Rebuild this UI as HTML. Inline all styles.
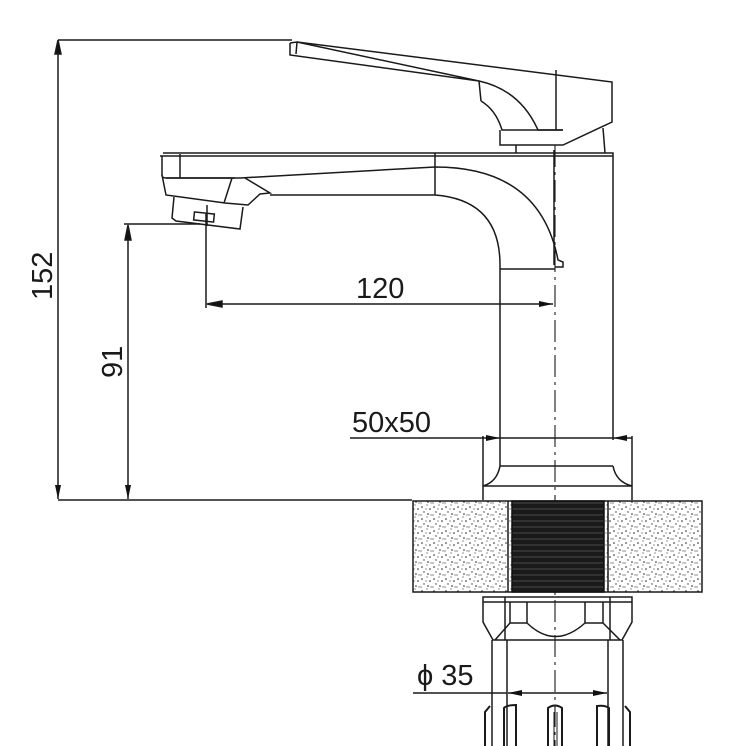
<!DOCTYPE html>
<html><head><meta charset="utf-8"><style>
html,body{margin:0;padding:0;background:#fff;}
svg{display:block;}
text{font-family:"Liberation Sans",Arial,sans-serif;fill:#1a1a1a;}
</style></head><body>
<svg width="746" height="746" viewBox="0 0 746 746" xmlns="http://www.w3.org/2000/svg">
<defs>
<pattern id="dots" width="12" height="12" patternUnits="userSpaceOnUse">
<rect width="12" height="12" fill="#fff"/>
<circle cx="2" cy="3" r="0.8" fill="#222"/><circle cx="7" cy="1" r="0.6" fill="#444"/>
<circle cx="10" cy="5" r="0.8" fill="#222"/><circle cx="4" cy="8" r="0.7" fill="#333"/>
<circle cx="8" cy="10" r="0.8" fill="#222"/><circle cx="11" cy="11" r="0.6" fill="#444"/>
<circle cx="1" cy="11" r="0.6" fill="#333"/><circle cx="6" cy="5" r="0.6" fill="#444"/>
</pattern>
<pattern id="thr" width="10" height="6" patternUnits="userSpaceOnUse">
<rect width="10" height="6" fill="#1a1a1a"/><line x1="0" y1="5" x2="10" y2="5" stroke="#555" stroke-width="0.8"/>
</pattern>
<marker id="ar" markerWidth="14" markerHeight="6" refX="14" refY="3" orient="auto" markerUnits="userSpaceOnUse">
<path d="M0,0 L14,3 L0,6 Z" fill="#111"/></marker>
</defs>
<g fill="none" stroke="#1a1a1a" stroke-width="1.5">
<line x1="58" y1="40" x2="292" y2="40"/>
<line x1="58" y1="500" x2="412" y2="500"/>
<line x1="58" y1="50" x2="58" y2="499" marker-end="url(#ar)"/>
<path d="M58,40 l-3,14 h6 z" fill="#111"/>
<line x1="124" y1="224" x2="200" y2="224"/>
<line x1="128" y1="240" x2="128" y2="499" marker-end="url(#ar)"/>
<path d="M128,225 l-3,15 h6 z" fill="#111"/>
<line x1="206" y1="214" x2="206" y2="308"/>
<line x1="222" y1="304" x2="553" y2="304" marker-end="url(#ar)"/>
<path d="M207,304 l15,-3 v6 z" fill="#111"/>
<line x1="555" y1="145" x2="555" y2="746" stroke-dasharray="22,5,3,5" stroke-width="1.1"/>
<path d="M290,43 L297,42 L612,82 L612,122 L563,145 L500,145 L500,130"/>
<path d="M290,43 L290,55 L479,81 L481,101 L479,81 L297,42"/>
<path d="M297,42 L296,54"/>
<path d="M479,81 Q520,90 538,130 L563,130"/>
<path d="M481,101 Q496,110 502,130 L563,130"/>
<line x1="556" y1="70" x2="556" y2="130"/>
<line x1="516" y1="145" x2="516" y2="153"/>
<line x1="603" y1="128" x2="605" y2="153"/>
<path d="M163,153 L613,153 L613,440"/>
<line x1="160" y1="156" x2="613" y2="156"/>
<path d="M162,156 L162,175 Q162,178 166,178 L235,178"/>
<line x1="180" y1="154" x2="180" y2="178"/>
<path d="M166,178 L240,178 L435,167 Q540,167 558,260 L563,262 L563,267 L555,267"/>
<line x1="435" y1="153" x2="435" y2="195"/>
<path d="M270,195 L435,195 Q500,200 500,265 L500,440"/>
<line x1="500" y1="269" x2="555" y2="269"/>
<line x1="554" y1="150" x2="554" y2="265"/>
<path d="M162,175 L166,195 L225,203 L248,205 L260,194 L270,193 L245,178"/>
<path d="M232,178 L224,203"/>
<path d="M174,197 L172,218 L176,221 L240,229 L243,207"/>
<rect x="194" y="213" width="20" height="8" transform="rotate(6 204 217)"/>
<line x1="207" y1="205" x2="207" y2="226"/>
<line x1="350" y1="438" x2="483" y2="438"/>
<line x1="483" y1="438" x2="500" y2="438" marker-end="url(#ar)"/>
<line x1="632" y1="438" x2="613" y2="438" marker-end="url(#ar)"/>
<line x1="500" y1="438" x2="613" y2="438"/>
<line x1="483" y1="436" x2="483" y2="500"/>
<line x1="632" y1="436" x2="632" y2="500"/>
<line x1="500" y1="466" x2="613" y2="466"/>
<path d="M500,440 L500,466 Q497,482 483,486 L632,486 Q616,482 613,466"/>
<rect x="413" y="501" width="289" height="91" fill="url(#dots)"/>
<rect x="512" y="501" width="92" height="91" fill="url(#thr)" stroke="#111"/>
<line x1="508" y1="501" x2="508" y2="592"/>
<line x1="608" y1="501" x2="608" y2="592"/>
<path d="M483,597 L632,597 L632,622 L622,640 L493,640 L483,622 Z"/>
<line x1="483" y1="602" x2="632" y2="602"/>
<path d="M510,602 L510,623 L495,640 M510,623 L527,623 M527,602 L527,623 Q555,650 585,623 L585,602 M585,623 L603,623 L603,602 M603,623 L620,640"/>
<line x1="505" y1="597" x2="505" y2="640"/>
<line x1="610" y1="597" x2="610" y2="640"/>
<line x1="492" y1="640" x2="492" y2="746"/>
<line x1="623" y1="640" x2="623" y2="746"/>
<line x1="507" y1="640" x2="507" y2="746"/>
<line x1="608" y1="640" x2="608" y2="746"/>
<line x1="413" y1="693" x2="507" y2="693"/>
<line x1="530" y1="693" x2="508" y2="693" marker-end="url(#ar)"/>
<line x1="580" y1="693" x2="607" y2="693" marker-end="url(#ar)"/>
<line x1="530" y1="693" x2="580" y2="693"/>
<g stroke-width="2">
<path d="M485,746 L485,712 L490,706"/>
<path d="M504,746 L504,708 Q507,705 516,705 L516,746"/>
<path d="M548,746 L548,708 Q555,703 562,708 L562,746"/>
<path d="M554,712 L554,746 M557,712 L557,746" stroke-width="1"/>
<path d="M597,746 L597,706 Q605,705 609,708 L609,746"/>
<path d="M625,706 L630,712 L630,746"/>
</g>
</g>
<text x="0" y="0" font-size="29" transform="translate(52,300) rotate(-90)">152</text>
<text x="0" y="0" font-size="29" transform="translate(122,378) rotate(-90)">91</text>
<text x="356" y="298" font-size="29">120</text>
<text x="352" y="432" font-size="29">50x50</text>
<text x="417" y="685" font-size="29">ϕ 35</text>
</svg>
</body></html>
